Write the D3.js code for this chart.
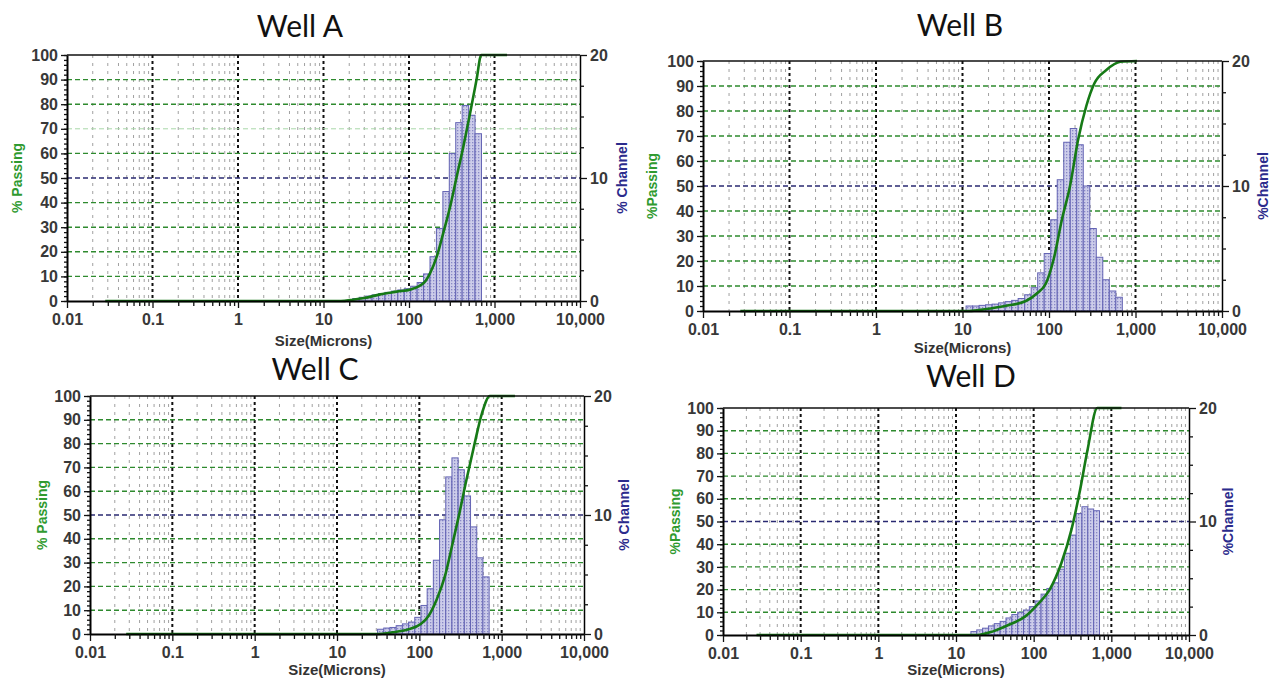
<!DOCTYPE html>
<meta charset="utf-8">
<script src="https://d3js.org/d3.v7.min.js"></script>
<style>
  body { margin: 0; background: #fff; }
  .tick text { font-family: "Liberation Sans", Arial, sans-serif; font-weight: bold; font-size: 16px; fill: #383838; }
</style>
<div id="chart"></div>
<script>
// Microtrac channel edges (microns)
var channelEdges = [11, 13.08, 15.56, 18.5, 22, 26.16, 31.11, 37, 44, 52.33, 62.23, 74, 88,
  104.7, 124.5, 148, 176, 209.3, 248.9, 296, 352, 418.6, 497.8, 592, 704];

// % channel per bin (one value per pair of edges above)
var wellA_channel = [0, 0, 0, 0, 0.2, 0.3, 0.4, 0.5, 0.6, 0.7, 0.8, 0.9, 1.0, 1.2, 1.5, 2.2, 3.6, 5.9, 8.9, 12.0, 14.5, 15.9, 15.1, 13.6];
var wellB_channel = [0.4, 0.4, 0.45, 0.5, 0.55, 0.65, 0.75, 0.85, 1.0, 1.3, 1.86, 3.05, 4.6, 7.3, 10.5, 13.5, 14.6, 13.3, 10.0, 6.6, 4.3, 2.5, 1.6, 1.1];
var wellC_channel = [0, 0, 0, 0, 0, 0, 0.4, 0.5, 0.55, 0.7, 0.85, 1.0, 1.4, 2.4, 3.8, 6.2, 9.6, 13.2, 14.8, 13.8, 11.6, 9.0, 6.4, 4.8];
var wellD_channel = [0, 0, 0.3, 0.45, 0.6, 0.8, 1.0, 1.2, 1.5, 1.8, 2.0, 2.2, 2.5, 3.0, 3.6, 4.1, 4.6, 5.8, 7.2, 8.8, 10.7, 11.3, 11.1, 10.95];

// % passing curves (size in microns, percent)
var wellA_size = [0.028, 16, 22, 30, 46, 72, 105, 154, 176, 211, 251, 301, 361, 432, 516, 617, 700, 1400];
var wellA_pass = [0, 0, 0.5, 1.2, 2.7, 3.8, 4.7, 7.9, 11.2, 18, 27.5, 38, 50.5, 62.7, 76, 90, 100, 100];
var wellB_size = [0.027, 12, 18, 31, 54, 74, 92, 113, 141, 175, 217, 270, 334, 460, 670, 1040];
var wellB_pass = [0, 0, 0.7, 2, 4, 7.3, 11, 20.6, 36.6, 50, 68.5, 82, 91, 96.4, 99.7, 100];
var wellC_size = [0.0275, 29.5, 47, 74, 104, 130, 163, 205, 257, 307, 366, 460, 575, 720, 1450];
var wellC_pass = [0, 0, 0.7, 2, 4.2, 7.7, 14.6, 24.4, 39, 50.8, 63.4, 78.7, 92.6, 100, 100];
var wellD_size = [0.027, 18.6, 30, 48, 78, 111, 160, 227, 306, 388, 493, 660, 1350];
var wellD_pass = [0, 0, 1.6, 4.5, 8.2, 13.3, 19.9, 31.6, 46.3, 62.4, 81.4, 100, 100];

// tick labels
var xTicks = [0.01, 0.1, 1, 10, 100, 1000, 10000];
var passTicks = [0, 10, 20, 30, 40, 50, 60, 70, 80, 90, 100];
var channelTicks = [0, 10, 20];

var W = 1275, H = 679;
var svg = d3.select("#chart").append("svg").attr("width", W).attr("height", H);

// dotted fill for the histogram
var pat = svg.append("defs").append("pattern")
  .attr("id", "dots").attr("patternUnits", "userSpaceOnUse")
  .attr("width", 3).attr("height", 3);
pat.append("rect").attr("width", 3).attr("height", 3).attr("fill", "#cdcdea");
pat.append("rect").attr("x", 1).attr("y", 1).attr("width", 1.3).attr("height", 1.3).attr("fill", "#8888c6");

var minorX = [];
xTicks.slice(0, -1).forEach(function(d) {
  for (var m = 2; m <= 9; m++) minorX.push(+(d * m).toPrecision(3));
});

var panels = [
  {title: "Well A", tx: 300, ty: 37, l: 67, r: 580, t: 55, b: 301, chan: wellA_channel, size: wellA_size, pass: wellA_pass,
   py: "% Passing", cy: "% Channel", pyx: 17, cyx: 622, xl: 341, faint: [70]},
  {title: "Well B", tx: 960, ty: 36, l: 703, r: 1222, t: 61, b: 311, chan: wellB_channel, size: wellB_size, pass: wellB_pass,
   py: "%Passing", cy: "%Channel", pyx: 652, cyx: 1263, xl: 348, faint: []},
  {title: "Well C", tx: 315, ty: 380, l: 90, r: 584, t: 396, b: 634, chan: wellC_channel, size: wellC_size, pass: wellC_pass,
   py: "% Passing", cy: "% Channel", pyx: 42, cyx: 624, xl: 670, faint: []},
  {title: "Well D", tx: 971, ty: 387, l: 723, r: 1189, t: 408, b: 635, chan: wellD_channel, size: wellD_size, pass: wellD_pass,
   py: "%Passing", cy: "%Channel", pyx: 675, cyx: 1228, xl: 670, faint: []}
];

panels.forEach(drawPanel);

function drawPanel(p) {
  var g = svg.append("g");
  var x = d3.scaleLog().domain([0.01, 10000]).range([p.l, p.r]);
  var y = d3.scaleLinear().domain([0, 100]).range([p.b, p.t]);
  var ch = d3.scaleLinear().domain([0, 20]).range([p.b, p.t]);

  // title
  g.append("text")
    .attr("x", p.tx).attr("y", p.ty)
    .attr("text-anchor", "middle")
    .style("font-family", "Lato, 'Open Sans', sans-serif")
    .style("font-size", "30px")
    .style("fill", "#111")
    .text(p.title);

  // vertical grid
  g.append("g").selectAll("line").data(minorX).enter().append("line")
    .attr("x1", function(d) { return x(d); }).attr("x2", function(d) { return x(d); })
    .attr("y1", p.t).attr("y2", p.b)
    .attr("stroke", "#a0a0a0").attr("stroke-width", 1).attr("stroke-dasharray", "3,5");
  g.append("g").selectAll("line").data(xTicks.slice(1, -1)).enter().append("line")
    .attr("x1", function(d) { return x(d); }).attr("x2", function(d) { return x(d); })
    .attr("y1", p.t).attr("y2", p.b)
    .attr("stroke", "#111").attr("stroke-width", 2).attr("stroke-dasharray", "3,3");

  // horizontal grid
  g.append("g").selectAll("line").data(passTicks.slice(1, -1)).enter().append("line")
    .attr("x1", p.l).attr("x2", p.r)
    .attr("y1", function(d) { return y(d); }).attr("y2", function(d) { return y(d); })
    .attr("stroke", function(d) { return d == 50 ? "#2a2a72" : (p.faint.indexOf(d) >= 0 ? "#a8d8a8" : "#2e8a2e"); })
    .attr("stroke-width", function(d) { return p.faint.indexOf(d) >= 0 ? 1 : 1.4; })
    .attr("stroke-dasharray", "5,3");

  // histogram
  var bins = p.chan.map(function(v, i) { return {lo: channelEdges[i], hi: channelEdges[i + 1], v: v}; })
    .filter(function(d) { return d.v > 0; });
  g.append("g").selectAll("rect").data(bins).enter().append("rect")
    .attr("x", function(d) { return x(d.lo); })
    .attr("width", function(d) { return x(d.hi) - x(d.lo); })
    .attr("y", function(d) { return ch(d.v); })
    .attr("height", function(d) { return p.b - ch(d.v); })
    .attr("fill", "url(#dots)")
    .attr("stroke", "#6464b4").attr("stroke-width", 1);

  // % passing curve
  var pts = p.size.map(function(s, i) { return [x(s), y(p.pass[i])]; });
  g.append("path")
    .attr("d", d3.line().curve(d3.curveMonotoneX)(pts))
    .attr("fill", "none").attr("stroke", "#167a16").attr("stroke-width", 2.6);

  // frame
  g.append("line").attr("x1", p.l).attr("x2", p.r).attr("y1", p.t).attr("y2", p.t)
    .attr("stroke", "#111").attr("stroke-width", 1.5);

  // axes
  var ax = g.append("g").attr("transform", "translate(0," + p.b + ")")
    .call(d3.axisBottom(x).tickValues(xTicks).tickFormat(d3.format(",")).tickSize(7).tickSizeOuter(0));
  g.append("g").attr("transform", "translate(0," + p.b + ")")
    .call(d3.axisBottom(x).tickValues(minorX).tickFormat("").tickSize(5).tickSizeOuter(0))
    .select(".domain").remove();
  ax.select(".domain").attr("stroke-width", 2);
  ax.selectAll(".tick text").attr("dy", "0.9em");

  var ay = g.append("g").attr("transform", "translate(" + p.l + ",0)")
    .call(d3.axisLeft(y).tickValues(passTicks).tickSize(6).tickSizeOuter(0));
  g.append("g").attr("transform", "translate(" + p.l + ",0)")
    .call(d3.axisLeft(y).tickValues(d3.range(0, 101, 2)).tickFormat("").tickSize(3).tickSizeOuter(0))
    .select(".domain").remove();
  ay.select(".domain").attr("stroke-width", 2);

  var ar = g.append("g").attr("transform", "translate(" + p.r + ",0)")
    .call(d3.axisRight(ch).tickValues(channelTicks).tickSize(7).tickSizeOuter(0));
  g.append("g").attr("transform", "translate(" + p.r + ",0)")
    .call(d3.axisRight(ch).tickValues([2.5, 5, 7.5, 12.5, 15, 17.5]).tickFormat("").tickSize(4).tickSizeOuter(0))
    .select(".domain").remove();
  ar.select(".domain").attr("stroke-width", 1.5);

  g.selectAll(".tick line").attr("stroke", "#111").attr("stroke-width", 1.3);

  // axis titles
  var mid = (p.t + p.b) / 2;
  g.append("text")
    .attr("transform", "translate(" + p.pyx + "," + mid + ") rotate(-90)")
    .attr("text-anchor", "middle").attr("dy", "0.35em")
    .style("font-family", "'Liberation Sans', Arial, sans-serif").style("font-weight", "bold").style("font-size", "14px")
    .style("fill", "#2f9a2f")
    .text(p.py);
  g.append("text")
    .attr("transform", "translate(" + p.cyx + "," + mid + ") rotate(-90)")
    .attr("text-anchor", "middle").attr("dy", "0.35em")
    .style("font-family", "'Liberation Sans', Arial, sans-serif").style("font-weight", "bold").style("font-size", "14px")
    .style("fill", "#2b2b8c")
    .text(p.cy);
  g.append("text")
    .attr("x", (p.l + p.r) / 2).attr("y", p.xl).attr("dy", "0.35em")
    .attr("text-anchor", "middle")
    .style("font-family", "'Liberation Sans', Arial, sans-serif").style("font-weight", "bold").style("font-size", "15px")
    .style("fill", "#333")
    .text("Size(Microns)");
}
</script>
